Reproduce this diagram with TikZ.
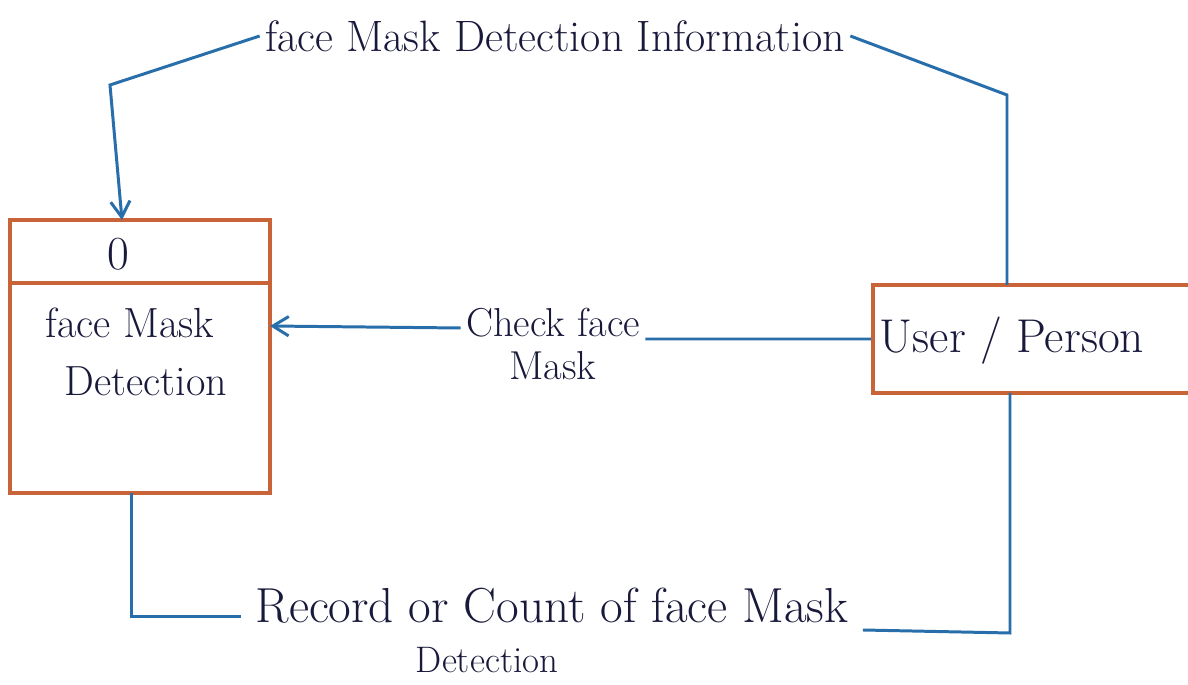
\documentclass[tikz,border=0pt]{standalone}
\usepackage{tikz}
\usetikzlibrary{arrows.meta,calc}
\definecolor{boxc}{RGB}{200,100,55}
\definecolor{flowc}{RGB}{40,110,170}
\definecolor{inkc}{RGB}{25,25,60}
\tikzset{
  boxst/.style={draw=boxc,line width=2.3pt,fill=white,inner sep=0pt},
  flowst/.style={draw=flowc,line width=1.7pt},
  arr/.style={-{Straight Barb[length=9pt,width=11pt,line width=1.7pt]}},
  txt/.style={text=inkc,font=\fontsize{25}{33}\selectfont,inner sep=3pt},
}
\begin{document}
\begin{tikzpicture}[x=0.02cm,y=-0.02cm]
\clip (0,0) rectangle (1188,685);
\fill[white] (0,0) rectangle (1188,685);
% process box
\node[boxst,minimum width=5.2cm,minimum height=5.46cm] (proc) at (140,356.5) {};
\draw[boxc,line width=2.3pt] (10,283) coordinate (dl) -- (270,283) coordinate (dr);
\node[txt,font=\fontsize{27}{33}\selectfont] (pid) at (118,254) {0};
\node[txt,align=left,anchor=north west,font=\fontsize{24}{33}\selectfont] (pname) at (40,302) {face Mask\\\hspace{0.45em}Detection};
% user box
\node[boxst,minimum width=6.54cm,minimum height=2.16cm] (user) at (1036.5,339) {};
\node[txt,font=\fontsize{27}{33}\selectfont] (utxt) at (1012,341) {User / Person};
% labels
\node[txt,align=center,font=\fontsize{23}{25}\selectfont] (chk) at (553,344) {Check face\\Mask};
\node[txt] (info) at (555,36) {face Mask Detection Information};
\node[txt,font=\fontsize{28}{33}\selectfont,inner sep=8pt] (rec) at (552,606) {Record or Count of face Mask};
\node[txt,font=\fontsize{21}{26}\selectfont] (rec2) at (487,660) {Detection};
% coordinates
\coordinate (pin) at (270,326);
\coordinate (ptop) at (122,220);
\coordinate (tl) at (110,85);
\coordinate (tr) at (1007,95);
\coordinate (utop) at (1007,285);
\coordinate (pbot) at (131.3,493);
\coordinate (bl) at (131.3,616.3);
\coordinate (br) at (1010,633);
\coordinate (ubot) at (1010,393);
% flows
\draw[flowst,arr] (user.west) -- (chk.east |- 0,339) (chk.west |- 0,328) -- (pin);
\draw[flowst] (utop) -- (tr) -- (info.east);
\draw[flowst,arr] (info.west) -- (tl) -- (ptop);
\draw[flowst] (pbot) -- (bl) -- (rec.west |- bl);
\draw[flowst] (rec.east |- 0,630) -- (br) -- (ubot);
\end{tikzpicture}
\end{document}
